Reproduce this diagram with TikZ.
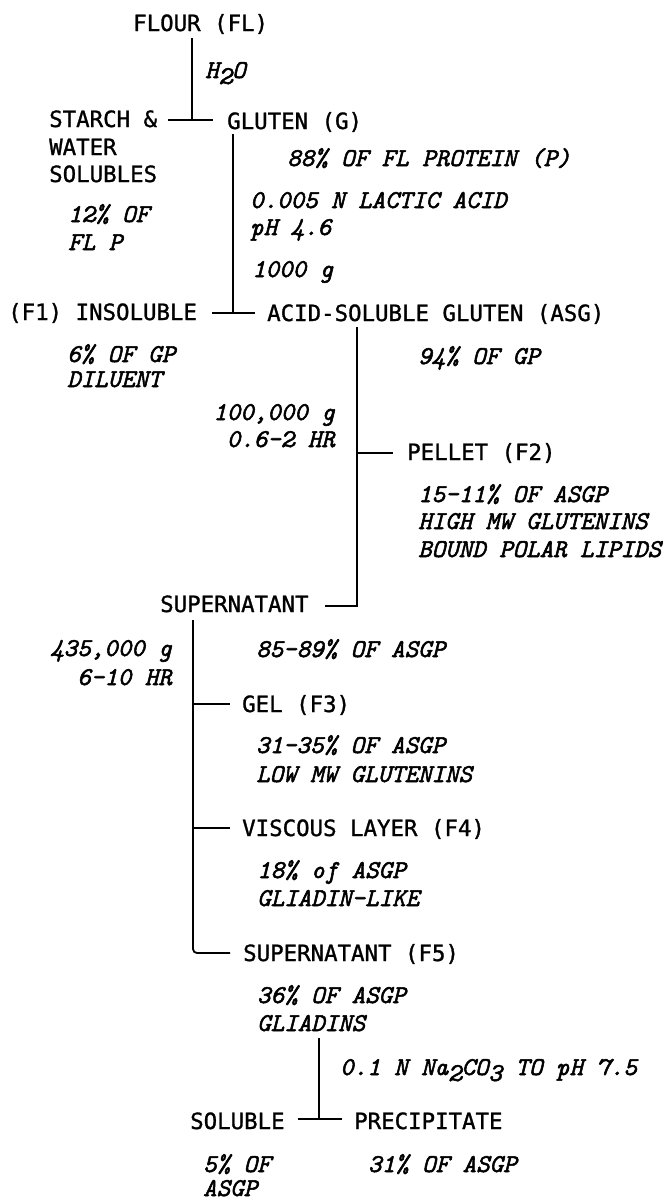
\documentclass[tikz,border=0pt]{standalone}
\usepackage{fontspec}
\newfontfamily\lblfont{DejaVu Sans Mono}[RawFeature={embolden=1.2}]
\newfontfamily\annfont{lmmono10-italic.otf}[RawFeature={embolden=2}]
\newcommand{\lowsub}[1]{\raisebox{-6pt}{#1}}
\tikzset{
  lbl/.style={anchor=base west, inner sep=0pt, font=\lblfont\fontsize{22.4}{27}\selectfont},
  ann/.style={anchor=base west, inner sep=0pt, font=\annfont\fontsize{25.7}{28}\selectfont},
  annr/.style={ann, anchor=base east},
  conn/.style={line width=1.8pt, line cap=butt},
}
\begin{document}
\begin{tikzpicture}[x=1pt,y=-1pt]
\useasboundingbox (0,0) rectangle (665,1200);
% ---- main labels
\node[lbl] (flour) at (133,31) {FLOUR (FL)};
\node[lbl] (starch1) at (49,127) {STARCH \&};
\node[lbl] (starch2) at (49,155) {WATER};
\node[lbl] (starch3) at (49,182) {SOLUBLES};
\node[lbl] (gluten) at (227,129) {GLUTEN (G)};
\node[lbl] (insol) at (8,320) {(F1) INSOLUBLE};
\node[lbl] (asg) at (267,321) {ACID-SOLUBLE GLUTEN (ASG)};
\node[lbl] (pellet) at (407,460) {PELLET (F2)};
\node[lbl] (super) at (160,612) {SUPERNATANT};
\node[lbl] (gel) at (242,712) {GEL (F3)};
\node[lbl] (visc) at (242,836) {VISCOUS LAYER (F4)};
\node[lbl] (super5) at (243,961) {SUPERNATANT (F5)};
\node[lbl] (soluble) at (190,1129) {SOLUBLE};
\node[lbl] (precip) at (354,1129) {PRECIPITATE};
% ---- annotations
\node[ann] (water) at (205,78) {H\lowsub{2}O};
\node[ann] (a88) at (287,166) {88\% OF FL PROTEIN (P)};
\node[ann] (a12a) at (68,222) {12\% OF};
\node[ann] (a12b) at (68,250) {FL P};
\node[ann] (lactic) at (250,208) {0.005 N LACTIC ACID};
\node[ann] (ph) at (250,235) {pH 4.6};
\node[ann] (g1000) at (252,277) {1000 g};
\node[ann] (a6) at (67,362) {6\% OF GP};
\node[ann] (dil) at (67,387) {DILUENT};
\node[ann] (a94) at (418,364) {94\% OF GP};
\node[annr] (g100k) at (335,420) {100,000 g};
\node[annr] (hr1) at (335,447) {0.6-2 HR};
\node[ann] (p1) at (418,502) {15-11\% OF ASGP};
\node[ann] (p2) at (418,529) {HIGH MW GLUTENINS};
\node[ann] (p3) at (418,557) {BOUND POLAR LIPIDS};
\node[annr] (g435k) at (172,656) {435,000 g};
\node[annr] (hr2) at (172,685) {6-10 HR};
\node[ann] (a85) at (256,657) {85-89\% OF ASGP};
\node[ann] (a31) at (256,753) {31-35\% OF ASGP};
\node[ann] (low) at (256,782) {LOW MW GLUTENINS};
\node[ann] (a18) at (257,878) {18\% of ASGP};
\node[ann] (glike) at (257,906) {GLIADIN-LIKE};
\node[ann] (a36) at (257,1003) {36\% OF ASGP};
\node[ann] (glia) at (257,1031) {GLIADINS};
\node[ann] (naco) at (340,1075) {0.1 N Na\lowsub{2}CO\lowsub{3} TO pH 7.5};
\node[ann] (a5a) at (203,1172) {5\% OF};
\node[ann] (a5b) at (203,1196) {ASGP};
\node[ann] (a31b) at (368,1172) {31\% OF ASGP};
% ---- junction coordinates
\coordinate (t1top) at (192,38);
\coordinate (t1) at (192,120);
\coordinate (t1l) at (168,120);
\coordinate (t1r) at (213,120);
\coordinate (t2top) at (233,134);
\coordinate (t2) at (233,313);
\coordinate (t2l) at (212,313);
\coordinate (t2r) at (255,313);
\coordinate (t3top) at (357,327);
\coordinate (t3p) at (357,453);
\coordinate (t3pe) at (393,453);
\coordinate (t3b) at (357,606);
\coordinate (t3s) at (325,606);
\coordinate (t4top) at (193,620);
\coordinate (t4g) at (193,704);
\coordinate (t4ge) at (230,704);
\coordinate (t4v) at (193,828);
\coordinate (t4ve) at (230,828);
\coordinate (t4b) at (193,953);
\coordinate (t4be) at (230,953);
\coordinate (t5top) at (319,1038);
\coordinate (t5) at (319,1119);
\coordinate (t5l) at (298,1119);
\coordinate (t5r) at (342,1119);
% ---- connectors
\draw[conn] (t1top) -- (t1);
\draw[conn] (t1l) -- (t1r);
\draw[conn] (t2top) -- (t2);
\draw[conn] (t2l) -- (t2r);
\draw[conn] (t3top) -- (t3b) -- (t3s);
\draw[conn] (t3p) -- (t3pe);
\draw[conn, rounded corners=4pt] (t4top) -- (t4b) -- (t4be);
\draw[conn] (t4g) -- (t4ge);
\draw[conn] (t4v) -- (t4ve);
\draw[conn] (t5top) -- (t5);
\draw[conn] (t5l) -- (t5r);
\end{tikzpicture}
\end{document}
